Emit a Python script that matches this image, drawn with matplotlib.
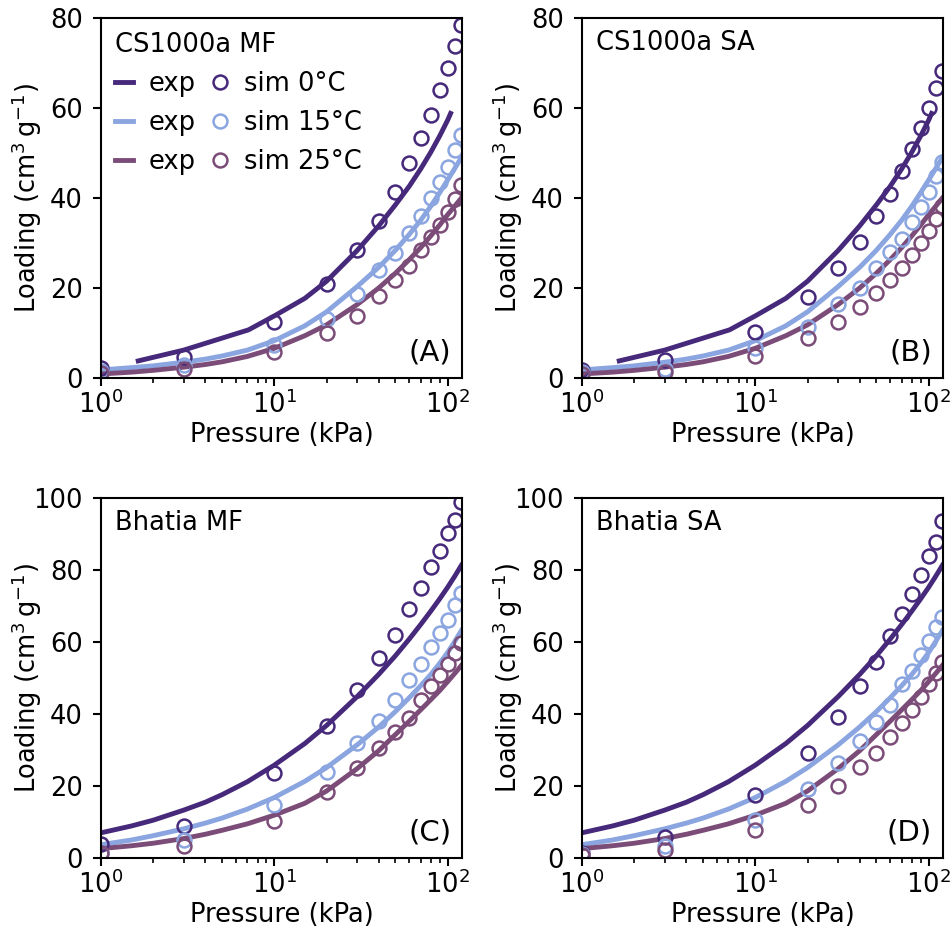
import matplotlib
matplotlib.use('Agg')
import matplotlib.pyplot as plt
import numpy as np

# simulated loadings (cm3/g) at these pressures (kPa)
sim_p = [1, 3, 10, 20, 30, 40, 50, 60, 70, 80, 90, 100, 110, 120]

cs_mf_0 = [2.2, 4.6, 12.5, 21.0, 28.4, 35.0, 41.4, 47.8, 53.3, 58.4, 64.0, 68.8, 73.8, 78.4]
cs_mf_15 = [1.5, 2.9, 7.4, 13.1, 18.6, 24.0, 27.8, 32.2, 36.1, 39.9, 43.5, 47.0, 50.7, 54.0]
cs_mf_25 = [1.2, 1.9, 5.7, 9.9, 13.8, 18.2, 21.8, 24.9, 28.4, 31.3, 34.0, 37.0, 39.7, 42.9]

cs_sa_0 = [1.8, 4.0, 10.3, 17.9, 24.4, 30.2, 35.9, 41.0, 46.0, 50.9, 55.5, 59.9, 64.4, 68.3]
cs_sa_15 = [1.3, 2.0, 6.6, 11.3, 16.4, 20.1, 24.4, 28.1, 31.0, 34.7, 38.1, 41.4, 44.9, 47.9]
cs_sa_25 = [1.0, 1.4, 4.8, 8.8, 12.5, 15.7, 18.8, 21.7, 24.4, 27.3, 30.0, 32.6, 35.3, 38.2]

bh_mf_0 = [3.8, 9.0, 23.6, 36.6, 46.7, 55.5, 61.9, 69.1, 74.9, 80.7, 85.3, 90.4, 93.9, 99.0]
bh_mf_15 = [1.3, 5.0, 14.7, 24.0, 31.9, 38.1, 43.9, 49.4, 54.0, 58.7, 62.4, 66.1, 70.3, 73.5]
bh_mf_25 = [1.5, 3.3, 10.4, 18.4, 24.9, 30.5, 35.1, 39.0, 43.9, 47.8, 50.8, 53.9, 56.9, 59.6]

bh_sa_0 = [1.3, 5.9, 17.5, 29.1, 39.1, 47.9, 54.5, 61.7, 67.8, 73.2, 78.6, 84.0, 87.9, 93.6]
bh_sa_15 = [1.0, 3.3, 10.6, 19.2, 26.3, 32.6, 37.9, 42.5, 48.2, 51.9, 56.4, 60.4, 64.3, 67.0]
bh_sa_25 = [0.8, 2.2, 7.8, 14.7, 20.0, 25.4, 29.1, 33.7, 37.4, 41.1, 44.6, 48.3, 51.5, 54.5]

# experimental isotherms (same for MF and SA panels of one material)
exp_p = [1, 1.5, 2, 3, 4, 5, 7, 10, 15, 20, 30, 40, 50, 60, 70, 80, 90, 100, 110, 120]

cs_exp_p0 = [1.64, 3.0, 7.1, 10, 15, 20, 30, 40, 50, 60, 70, 80, 90, 100, 104]
cs_exp_0 = [3.8, 6.2, 10.7, 13.8, 17.7, 21.5, 28.3, 33.8, 38.5, 42.6, 46.5, 50.2, 53.8, 57.3, 58.8]
cs_exp_15 = [1.8, 2.3, 2.7, 3.5, 4.2, 4.9, 6.2, 8.3, 11.6, 14.7, 20.3, 24.6, 28.4, 31.9, 35.1,
             38.2, 41.2, 44.0, 46.6, 49.0]
cs_exp_25 = [0.9, 1.3, 1.7, 2.4, 3.0, 3.6, 4.8, 6.6, 9.4, 11.8, 16.3, 20.0, 23.3, 26.3, 29.0,
             31.6, 34.0, 36.3, 38.2, 40.0]

bh_exp_0 = [7.0, 8.9, 10.5, 13.3, 15.5, 17.6, 21.2, 25.8, 31.8, 36.8, 44.8, 51.0, 56.2, 60.8, 64.9,
            68.6, 72.0, 75.2, 78.3, 81.3]
bh_exp_15 = [3.7, 5.0, 6.2, 8.1, 9.7, 11.1, 13.6, 16.8, 21.3, 25.1, 31.4, 36.4, 40.7, 44.5, 47.9,
             51.0, 54.1, 57.1, 60.2, 63.2]
bh_exp_25 = [2.6, 3.4, 4.1, 5.4, 6.6, 7.7, 9.5, 11.9, 15.2, 18.6, 24.8, 29.8, 34.3, 38.0, 41.2,
             44.0, 46.5, 49.0, 51.3, 53.5]

temps = ['0°C', '15°C', '25°C']
colors = ['#46297a', '#8aa5df', '#7b4c78']

panels = [
    ('CS1000a MF', '(A)', [cs_mf_0, cs_mf_15, cs_mf_25], 'cs', 80),
    ('CS1000a SA', '(B)', [cs_sa_0, cs_sa_15, cs_sa_25], 'cs', 80),
    ('Bhatia MF', '(C)', [bh_mf_0, bh_mf_15, bh_mf_25], 'bh', 100),
    ('Bhatia SA', '(D)', [bh_sa_0, bh_sa_15, bh_sa_25], 'bh', 100),
]

plt.rcParams['font.size'] = 18.5
plt.rcParams['axes.linewidth'] = 1.5

fig = plt.figure(figsize=(9.51, 9.35), dpi=100)
W, H = 951.0, 935.0
boxes = [(101, 18), (582, 18), (101, 498), (582, 498)]

for i, (name, tag, sims, mat, ymax) in enumerate(panels):
    x0, y0 = boxes[i]
    ax = fig.add_axes([x0 / W, 1 - (y0 + 360) / H, 361 / W, 360 / H])
    if mat == 'cs':
        exps = [(cs_exp_p0, cs_exp_0), (exp_p, cs_exp_15), (exp_p, cs_exp_25)]
    else:
        exps = [(exp_p, bh_exp_0), (exp_p, bh_exp_15), (exp_p, bh_exp_25)]

    lines = []
    marks = []
    for k in range(3):
        l, = ax.plot(exps[k][0], exps[k][1], '-', color=colors[k], lw=3.5, label='exp')
        lines.append(l)
    for k in range(3):
        m, = ax.plot(sim_p, sims[k], 'o', mfc='none', mec=colors[k], mew=1.8, ms=10,
                     label='sim ' + temps[k])
        marks.append(m)

    ax.set_xscale('log')
    ax.set_xlim(1, 121)
    ax.set_ylim(0, ymax)
    ax.set_yticks(np.arange(0, ymax + 1, 20))
    ax.tick_params(which='major', length=5.5, width=1.5)
    ax.tick_params(which='minor', length=3.5, width=1.2)
    ax.tick_params(axis='y', pad=7.5)
    ax.set_xlabel('Pressure (kPa)', labelpad=2)
    ax.set_ylabel(r'Loading (cm$^3\,$g$^{-1}$)')
    ax.yaxis.set_label_coords(-0.158, 0.5)

    if i == 0:
        leg = ax.legend(lines + marks, [h.get_label() for h in lines + marks], ncol=2,
                        loc='upper left', frameon=False, title=name, alignment='left',
                        title_fontsize=18.5, handlelength=0.7, handletextpad=0.6,
                        columnspacing=0.6, labelspacing=0.5, borderaxespad=0.15)
    else:
        ax.text(0.04, 0.93, name, transform=ax.transAxes, ha='left', va='center')
    ax.text(0.97, 0.07, tag, transform=ax.transAxes, ha='right', va='center', fontsize=21)

fig.savefig('out.png', dpi=100)
